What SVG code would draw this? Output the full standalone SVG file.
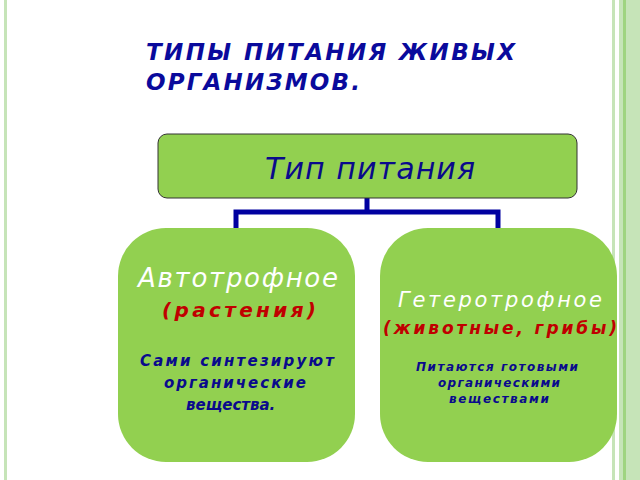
<svg xmlns="http://www.w3.org/2000/svg" width="640" height="480" viewBox="0 0 640 480">
<style>
.t{font-family:"DejaVu Sans","Noto Sans",sans-serif}
.box{fill:#92d050}
.w{fill:#fff}
.b{fill:#0a0a8c;font-weight:bold;font-style:italic}
.r{fill:#c00000;font-weight:bold;font-style:italic}
</style>
<rect width="640" height="480" fill="#fff"/>
<rect x="4" y="0" width="3" height="480" fill="#c6e4b8"/>
<rect x="612" y="0" width="3" height="480" fill="#c6e4b8"/>
<rect x="619" y="0" width="21" height="480" fill="#c6e4b8"/>
<rect x="623" y="0" width="3" height="480" fill="#9fd480"/>
<text class="t" x="146" y="60" font-size="23" font-weight="bold" font-style="italic" fill="#0a0a9c" textLength="369">ТИПЫ ПИТАНИЯ ЖИВЫХ</text>
<text class="t" x="146" y="90" font-size="23" font-weight="bold" font-style="italic" fill="#0a0a9c" textLength="214">ОРГАНИЗМОВ.</text>
<g id="connectors" fill="none" stroke="#0000a0" stroke-width="5">
<path d="M367 198V212M236 229V212H498V229"/>
</g>
<g id="root">
<rect class="box" x="158" y="134" width="419" height="64" rx="9" stroke="#333" stroke-width="1"/>
<text class="t" x="265" y="179" font-size="30" font-style="italic" fill="#0a0a8c" textLength="210">Тип питания</text>
</g>
<g id="auto">
<rect class="box" x="118" y="228" width="237" height="234" rx="48"/>
<text class="t w" x="138" y="287" font-size="26" font-style="italic" textLength="200">Автотрофное</text>
<text class="t r" x="162" y="317" font-size="20" textLength="154">(растения)</text>
<text class="t b" x="140" y="366" font-size="15" textLength="194">Сами синтезируют</text>
<text class="t b" x="164" y="388" font-size="15" textLength="142">органические</text>
<text class="t b" x="186" y="410" font-size="15">вещества.</text>
</g>
<g id="hetero">
<rect class="box" x="380" y="228" width="237" height="234" rx="48"/>
<text class="t w" x="398" y="307" font-size="21" font-style="italic" textLength="204">Гетеротрофное</text>
<text class="t r" x="383" y="334" font-size="17" textLength="234">(животные, грибы)</text>
<text class="t b" x="416" y="371" font-size="12" textLength="162">Питаются готовыми</text>
<text class="t b" x="438" y="387" font-size="12" textLength="122">органическими</text>
<text class="t b" x="449" y="403" font-size="12" textLength="100">веществами</text>
</g>
</svg>
